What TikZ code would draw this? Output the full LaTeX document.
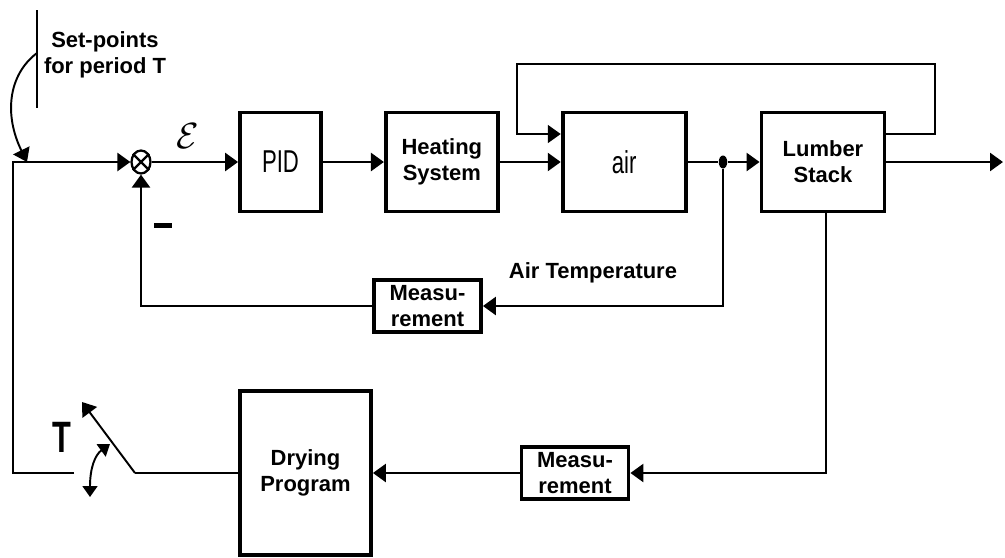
\documentclass[tikz,border=0pt]{standalone}
\usepackage{fontspec}
\setmainfont{Liberation Sans}
\newfontfamily\narrowfont[FakeStretch=0.7]{Liberation Sans}
\usetikzlibrary{arrows.meta,positioning,calc,shapes.geometric}

\begin{document}
\begin{tikzpicture}[
    x=0.02cm, y=-0.02cm,
    every node/.style={font=\fontsize{12.5}{14.7}\selectfont\bfseries},
    block/.style={rectangle, draw, line width=2.2pt, align=center, minimum height=1.98cm, inner sep=1pt},
    meas/.style={rectangle, draw, line width=2.2pt, align=center, minimum width=2.14cm, minimum height=1.04cm, inner sep=0pt},
    narrow/.style={font=\narrowfont\fontsize{#1}{#1}\selectfont},
    conn/.style={line width=1.5pt},
    arr/.style={conn, -{Triangle[length=0.26cm, width=0.36cm]}},
    thinarr/.style={line width=1.1pt, -{Triangle[length=0.26cm, width=0.36cm]}},
]
\useasboundingbox (0,0) rectangle (1005,558);

% Forward path
\node[ellipse, draw, line width=1.3pt, minimum width=0.38cm, minimum height=0.46cm, inner sep=0pt] (sum) at (141,162) {};
\draw[line width=1.3pt] (sum.45) -- (sum.225) (sum.135) -- (sum.315);
\node[block, narrow=18, minimum width=1.62cm] (pid) at (280.5,162) {PID};
\node[block, minimum width=2.24cm, right=1.22cm of pid] (heat) {Heating\\System};
\node[block, narrow=18, minimum width=2.46cm, right=1.22cm of heat] (air) {air};
\node[block, minimum width=2.46cm, right=1.44cm of air] (lumber) {Lumber\\Stack};
\node[ellipse, fill, inner sep=0pt, minimum width=0.17cm, minimum height=0.26cm] (tap) at (723,162) {};
\coordinate (out) at (1003,162);

% Feedback blocks
\node[meas] (mair) at (427.5,306) {Measu-\\rement};
\node[meas] (mwood) at (575,473) {Measu-\\rement};
\node[block, minimum width=2.62cm, minimum height=3.28cm] (drying) at (305.5,473) {Drying\\Program};

% Labels
\node[font=\fontsize{21}{24}\selectfont] (eps) at (188,136) {$\mathcal{E}$};
\node[inner sep=0pt] (minus) at (163,225) {\rule{0.36cm}{0.1cm}};
\node (airtemp) at (593,273) {Air Temperature};
\node[align=center] (setpt) at (105,55) {Set-points\\for period T};
\node[font=\narrowfont\bfseries\fontsize{25}{25}\selectfont] (tlabel) at (62,437) {T};

% Forward connectors
\draw[arr] (sum) -- (pid);
\draw[arr] (pid) -- (heat);
\draw[arr] (heat) -- (air);
\draw[conn] (air) -- (tap);
\draw[arr] (tap) -- (lumber);
\draw[arr] (lumber) -- (out);

% Air recirculation
\draw[thinarr] ([yshift=0.56cm]lumber.east) -- ++(49,0) -- ++(0,-70) -| ([xshift=-0.88cm, yshift=0.56cm]air.west) -- ([yshift=0.56cm]air.west);

% Air temperature loop
\draw[arr] (tap) |- (mair.east);
\draw[arr] (mair.west) -| (sum.south);

% Wood loop and sampling switch
\coordinate (swl) at (74,473);
\coordinate (swp) at (135,473);
\coordinate (swt) at (82,402);
\draw[arr] ([xshift=0.06cm]lumber.south) |- (mwood.east);
\draw[arr] (mwood) -- (drying);
\draw[conn] (drying.west) -- (swp);
\draw[thinarr] (swp) -- (swt);
\draw[arr] (swl) -- ++(-61,0) |- (sum.west);
\coordinate (rota) at (110,444);
\coordinate (rotb) at (90,497);
\draw[line width=1.1pt, {Triangle[length=0.22cm, width=0.3cm]}-{Triangle[length=0.22cm, width=0.3cm]}] (rota) .. controls (95,455) and (90,468) .. (rotb);

% Set-point input
\coordinate (sptop) at (37,10);
\coordinate (spbot) at (37,108);
\coordinate (spin) at (27,162);
\draw[line width=1.1pt] (sptop) -- (spbot);
\draw[thinarr] (37,53) .. controls (8,75) and (4,115) .. (spin);

\end{tikzpicture}
\end{document}
